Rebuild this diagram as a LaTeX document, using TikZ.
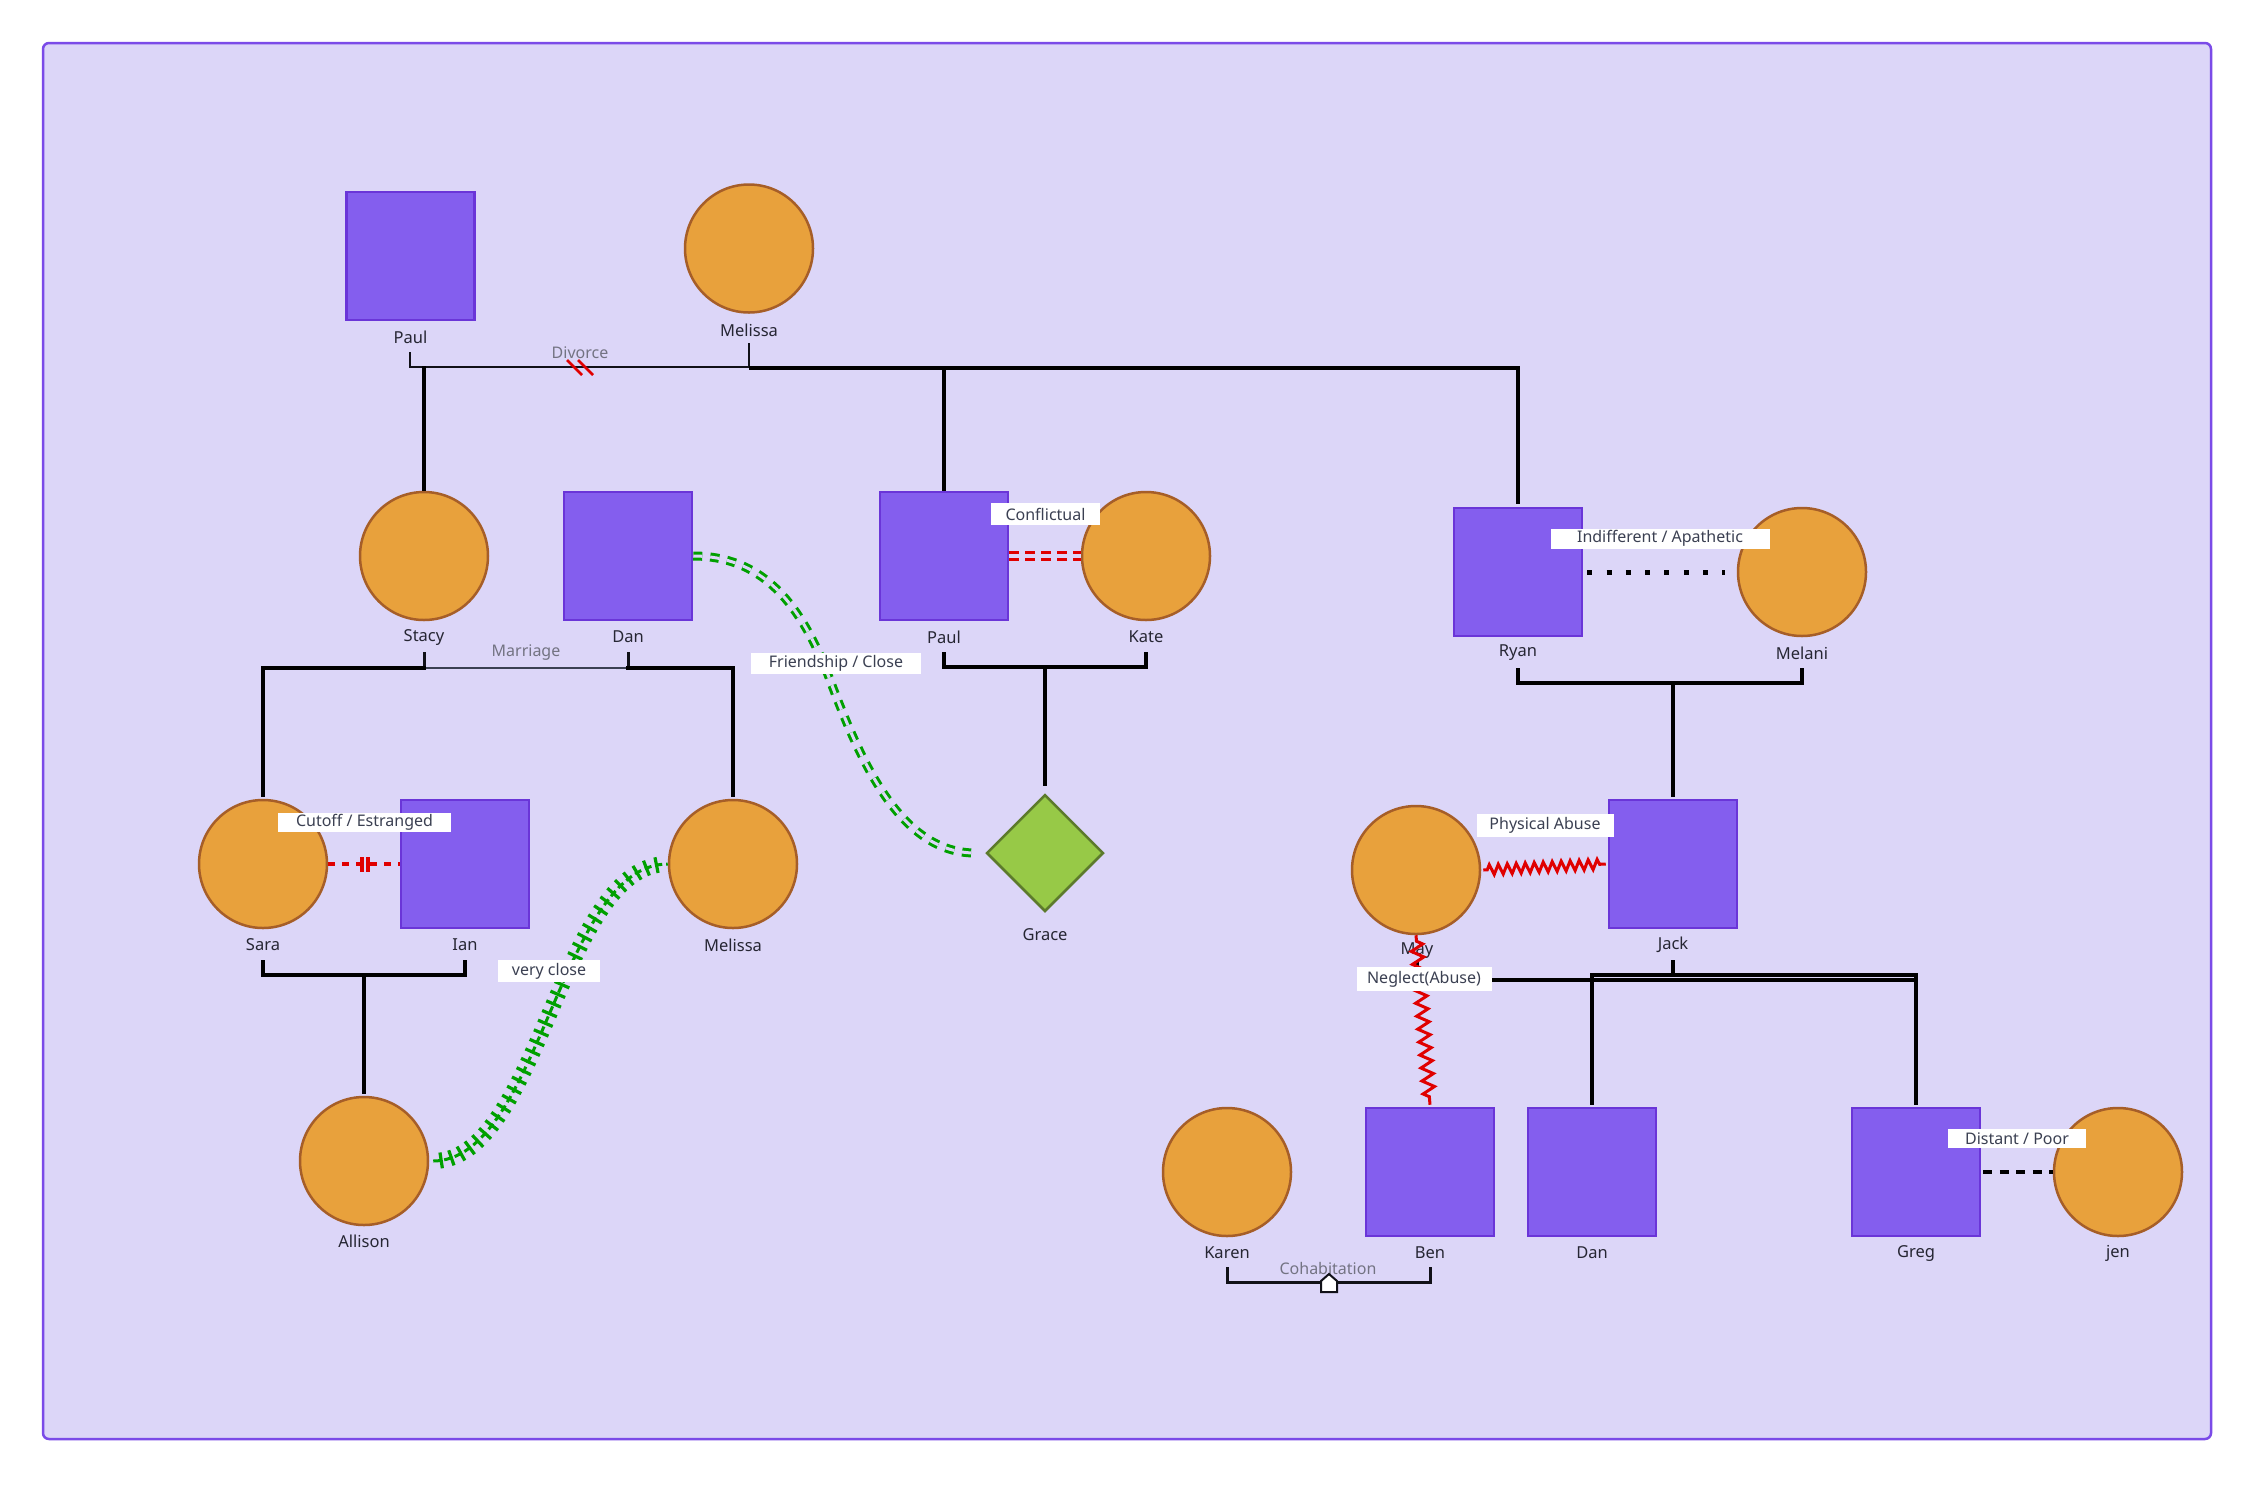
\documentclass[tikz,border=0pt]{standalone}
\usepackage{fontspec}
\setmainfont{Noto Sans}
\usetikzlibrary{shapes.geometric,decorations.pathmorphing,decorations.markings,calc}
\definecolor{bgc}{HTML}{DCD6F8}
\definecolor{framec}{HTML}{7B4BE8}
\definecolor{sqfill}{HTML}{845EEE}
\definecolor{sqborder}{HTML}{6A35D8}
\definecolor{cfill}{HTML}{E8A13C}
\definecolor{cborder}{HTML}{A65E28}
\definecolor{dfill}{HTML}{97C947}
\definecolor{dborder}{HTML}{5C7A2C}
\definecolor{redc}{HTML}{E00000}
\definecolor{grc}{HTML}{00A000}
\definecolor{namec}{HTML}{262633}
\definecolor{relc}{HTML}{3B4052}
\definecolor{grayc}{HTML}{737382}
\definecolor{linec}{HTML}{111118}
\begin{document}
\begin{tikzpicture}[x=1pt,y=-1pt,
  male/.style={rectangle, draw=sqborder, fill=sqfill, line width=2.5pt, minimum size=128pt, inner sep=0pt},
  female/.style={circle, draw=cborder, fill=cfill, line width=2.5pt, minimum size=128pt, inner sep=0pt},
  unkn/.style={diamond, aspect=1, draw=dborder, fill=dfill, line width=2.5pt, minimum width=117pt, minimum height=117pt, inner sep=0pt},
  pname/.style={font=\fontsize{16.5}{19}\selectfont, text=namec, inner sep=0pt},
  graylbl/.style={font=\fontsize{16}{19}\selectfont, text=grayc, inner sep=0pt},
  rel/.style={font=\fontsize{16}{19}\selectfont, text=relc, fill=white, inner sep=0pt},
  marr/.style={draw=linec, line width=2.5pt},
  ticksty/.style={draw=linec, line width=3pt},
  kid/.style={draw=black, line width=4pt},
  abuse/.style={draw=redc, line width=3pt, decorate, decoration={zigzag, segment length=9pt, amplitude=5pt, pre length=4pt, post length=4pt}},
  neglect/.style={draw=redc, line width=3pt, decorate, decoration={zigzag, segment length=13pt, amplitude=6pt, pre length=6pt, post length=4pt}},
  conflict/.style={draw=redc, line width=3.5pt, double=bgc, double distance=3.5pt, dash pattern=on 10pt off 6pt},
  friendship/.style={draw=grc, line width=3pt, double=bgc, double distance=3pt, dash pattern=on 9pt off 8pt},
  veryclose/.style={draw=grc, line width=3pt, dash pattern=on 7pt off 4pt,
     postaction={decorate, decoration={markings, mark=between positions 0.02 and 0.99 step 10.5pt with {\draw[grc, solid, line width=3.2pt] (0pt,-8pt) -- (0pt,8pt);}}}},
  cutoff/.style={draw=redc, line width=4pt, dash pattern=on 7pt off 7pt},
  indiff/.style={draw=black, line width=5pt, dash pattern=on 5pt off 14.3pt},
  distant/.style={draw=black, line width=4pt, dash pattern=on 9pt off 7.5pt}
]
\useasboundingbox (0,0) rectangle (2255,1484);
\fill[white] (0,0) rectangle (2255,1484);
\draw[draw=framec, fill=bgc, line width=2.5pt, rounded corners=6pt] (43,43) rectangle (2211,1439);

% ---------- people ----------
\node[male] (paulA) at (410.5,256) {};
\node[female] (melA) at (749,248.5) {};
\node[female] (stacy) at (424,556) {};
\node[male] (danA) at (628,556) {};
\node[male] (paulB) at (944,556) {};
\node[female] (kate) at (1146,556) {};
\node[male] (ryan) at (1518,572) {};
\node[female] (melani) at (1802,572) {};
\node[female] (sara) at (263,864) {};
\node[male] (ian) at (465,864) {};
\node[female] (melB) at (733,864) {};
\node[unkn] (grace) at (1045,853) {};
\node[female] (may) at (1416,870) {};
\node[male] (jack) at (1673,864) {};
\node[female] (allison) at (364,1161) {};
\node[female] (karen) at (1227,1172) {};
\node[male] (ben) at (1430,1172) {};
\node[male] (danB) at (1592,1172) {};
\node[male] (greg) at (1916,1172) {};
\node[female] (jen) at (2118,1172) {};

% ---------- names ----------
\node[pname] (paulAn) at (410.5,337) {Paul};
\node[pname] (melAn) at (749,330) {Melissa};
\node[pname] (stacyn) at (424,637) {Stacy};
\node[pname] (danAn) at (628,637) {Dan};
\node[pname] (paulBn) at (944,637) {Paul};
\node[pname] (katen) at (1146,637) {Kate};
\node[pname] (ryann) at (1518,653) {Ryan};
\node[pname] (melanin) at (1802,653) {Melani};
\node[pname] (saran) at (263,945) {Sara};
\node[pname] (iann) at (465,945) {Ian};
\node[pname] (melBn) at (733,945) {Melissa};
\node[pname] (gracen) at (1045,935) {Grace};
\node[pname] (mayn) at (1417,951) {May};
\node[pname] (jackn) at (1673,945) {Jack};
\node[pname] (allisonn) at (364,1241) {Allison};
\node[pname] (karenn) at (1227,1253) {Karen};
\node[pname] (benn) at (1430,1253) {Ben};
\node[pname] (danBn) at (1592,1253) {Dan};
\node[pname] (gregn) at (1916,1253) {Greg};
\node[pname] (jenn) at (2118,1253) {jen};

% ---------- family lines ----------
\coordinate (tPaulA) at (410,352);
\coordinate (tMelA) at (749,343);
\draw[marr] (tPaulA) -- (410,367) -- (749,367) -- (tMelA);
\draw[redc, line width=2.5pt] (567,360) -- (582,375);
\draw[redc, line width=2.5pt] (578,360) -- (593,375);
\node[graylbl] (divorce) at (580,353) {Divorce};
\draw[kid] (749,368) -- (1520,368);
\draw[kid] (424,366) -- (stacy.north);
\draw[kid] (944,368) -- (paulB.north);
\draw[kid] (1518,368) -- ([yshift=3pt]ryan.north);

\coordinate (tStacy) at (424,652);
\coordinate (tDanA) at (628,652);
\draw[ticksty] (tStacy) -- (424,668);
\draw[ticksty] (tDanA) -- (628,668);
\draw[marr, draw=relc] (424,668) -- (628,668);
\node[graylbl] (marriage) at (526,653) {Marriage};
\draw[kid] (426,668) -- (263,668) -- ([yshift=2pt]sara.north);
\draw[kid] (626,668) -- (733,668) -- ([yshift=2pt]melB.north);

\coordinate (tPaulB) at (944,652);
\coordinate (tKate) at (1146,652);
\draw[kid] (tPaulB) -- (944,667) -- (1146,667) -- (tKate);
\draw[kid] (1045,667) -- ([yshift=7pt]grace.north);

\coordinate (tRyan) at (1518,668);
\coordinate (tMelani) at (1802,668);
\draw[kid] (tRyan) -- (1518,683) -- (1802,683) -- (tMelani);
\draw[kid] (1673,683) -- ([yshift=2pt]jack.north);

\coordinate (tSara) at (263,960);
\coordinate (tIan) at (465,960);
\draw[kid] (tSara) -- (263,975) -- (465,975) -- (tIan);
\draw[kid] (364,975) -- ([yshift=2pt]allison.north);

\coordinate (tMay) at (1417,962);
\coordinate (tJack) at (1673,960);
\draw[kid] (tMay) -- (1417,980) -- (1914,980);
\draw[kid] (tJack) -- (1673,975);
\draw[kid] ([yshift=2pt]danB.north) -- (1592,975) -- (1916,975) -- ([yshift=2pt]greg.north);

\coordinate (tKaren) at (1227,1267);
\coordinate (tBen) at (1430,1267);
\draw[ticksty] (tKaren) -- (1227,1282) -- (1430,1282) -- (tBen);
\node[graylbl] (cohab) at (1328,1268) {Cohabitation};
\draw[draw=linec, fill=white, line width=2pt] (1321,1292) -- (1321,1281) -- (1329,1274) -- (1337,1281) -- (1337,1292) -- cycle;

% ---------- emotional relationships ----------
\draw[conflict] (paulB.east) -- (kate.west);
\draw[indiff] ([xshift=4pt]ryan.east) -- ([xshift=-12pt]melani.west);
\draw[cutoff] (sara.east) -- (ian.west);
\fill[redc] (360,857) rectangle (363.5,872);
\fill[redc] (366,857) rectangle (369.5,872);
\draw[distant] ([xshift=2pt]greg.east) -- (jen.west);
\draw[friendship] (danA.east) .. controls (760,556) and (800,600) .. (830,680)
   .. controls (860,760) and (900,853) .. ([xshift=-10pt]grace.west);
\draw[veryclose] ([xshift=4pt]allison.east) .. controls (540,1160) and (560,864) .. (melB.west);
\draw[abuse] ([xshift=2pt]may.east) -- ([xshift=-2pt]jack.west);
\draw[neglect] (may.south) -- ([yshift=2pt]ben.north);

% ---------- relationship labels ----------
\node[rel, minimum width=109pt, minimum height=22pt] (lconf) at (1045.5,514) {Conflictual};
\node[rel, minimum width=219pt, minimum height=20pt] (lindiff) at (1660,538.5) {Indifferent / Apathetic};
\node[rel, minimum width=170pt, minimum height=21pt] (lfriend) at (836,663) {Friendship / Close};
\node[rel, minimum width=173pt, minimum height=19pt] (lcut) at (364.5,822) {Cutoff / Estranged};
\node[rel, minimum width=102pt, minimum height=22pt] (lvclose) at (549,971) {very close};
\node[rel, minimum width=137pt, minimum height=23pt] (lphys) at (1545,825) {Physical Abuse};
\node[rel, minimum width=135pt, minimum height=24pt] (lneg) at (1424,979) {Neglect(Abuse)};
\node[rel, minimum width=138pt, minimum height=19pt] (ldist) at (2017,1138.5) {Distant / Poor};
\end{tikzpicture}
\end{document}
